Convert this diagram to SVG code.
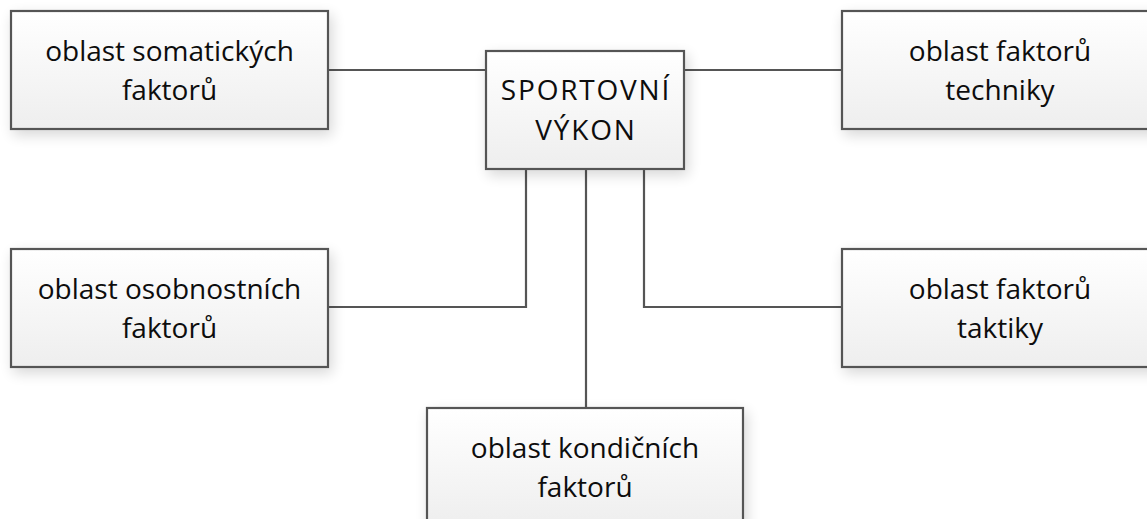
<svg xmlns="http://www.w3.org/2000/svg" width="1147" height="519" viewBox="0 0 1147 519">
  <defs>
    <linearGradient id="boxFill" x1="0" y1="0" x2="0" y2="1">
      <stop offset="0" stop-color="#ffffff"/>
      <stop offset="1" stop-color="#eeeeee"/>
    </linearGradient>
    <filter id="softShadow" x="-20%" y="-30%" width="140%" height="170%">
      <feGaussianBlur in="SourceAlpha" stdDeviation="7"/>
      <feOffset dx="3" dy="5" result="blur"/>
      <feComponentTransfer>
        <feFuncA type="linear" slope="0.16"/>
      </feComponentTransfer>
      <feMerge>
        <feMergeNode/>
        <feMergeNode in="SourceGraphic"/>
      </feMerge>
    </filter>
  </defs>
  <style>
    .box { fill: url(#boxFill); stroke: #555555; stroke-width: 2.2; filter: url(#softShadow); }
    .label { font-family: "Open Sans", "Liberation Sans", sans-serif; font-size: 28px; fill: #0d0d0d; text-anchor: middle; }
    .center-label { letter-spacing: 1.8px; }
    .wire { fill: none; stroke: #555555; stroke-width: 2.2; }
  </style>
  <rect width="1147" height="519" fill="#ffffff"/>

  <g id="connectors">
    <path class="wire" d="M328 70 H486"/>
    <path class="wire" d="M684 70 H842"/>
    <path class="wire" d="M526 169 V307 H328"/>
    <path class="wire" d="M644 169 V307 H842"/>
    <path class="wire" d="M586 169 V408"/>
  </g>

  <g id="sportovni-vykon">
    <rect class="box" x="486" y="51" width="198" height="118"/>
    <text class="label center-label" x="586" y="100">SPORTOVNÍ</text>
    <text class="label center-label" x="586" y="140">VÝKON</text>
  </g>

  <g id="somaticke">
    <rect class="box" x="11" y="11" width="317" height="118"/>
    <text class="label" x="169.5" y="61">oblast somatických</text>
    <text class="label" x="169.5" y="100">faktorů</text>
  </g>

  <g id="technika">
    <rect class="box" x="842" y="11" width="317" height="118"/>
    <text class="label" x="1000" y="61">oblast faktorů</text>
    <text class="label" x="1000" y="100">techniky</text>
  </g>

  <g id="osobnostni">
    <rect class="box" x="11" y="249" width="317" height="118"/>
    <text class="label" x="169.5" y="299">oblast osobnostních</text>
    <text class="label" x="169.5" y="338">faktorů</text>
  </g>

  <g id="taktika">
    <rect class="box" x="842" y="249" width="317" height="118"/>
    <text class="label" x="1000" y="299">oblast faktorů</text>
    <text class="label" x="1000" y="338">taktiky</text>
  </g>

  <g id="kondicni">
    <rect class="box" x="427" y="408" width="316" height="118"/>
    <text class="label" x="585" y="458">oblast kondičních</text>
    <text class="label" x="585" y="497">faktorů</text>
  </g>
</svg>
